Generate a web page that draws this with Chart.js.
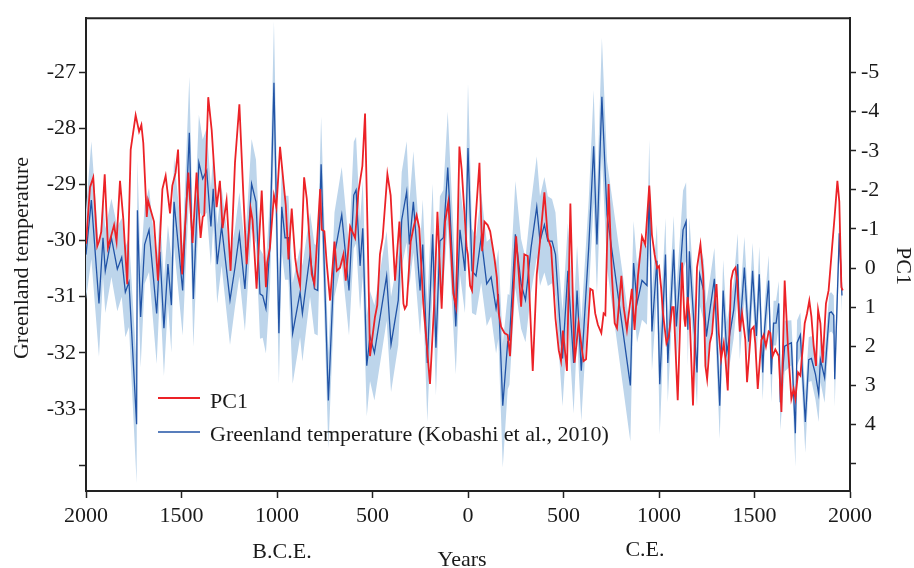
<!DOCTYPE html>
<html>
<head>
<meta charset="utf-8">
<script src="https://cdn.jsdelivr.net/npm/chart.js@4.4.1/dist/chart.umd.min.js"></script>
<style>
  html, body { margin: 0; padding: 0; background: #fff; }
  #wrap { width: 914px; height: 568px; }
</style>
</head>
<body>
<div id="wrap"><canvas id="chart" width="914" height="568"></canvas></div>
<script>
// Greenland temperature (Kobashi et al., 2010), deg C, with its uncertainty half-width
const tempYears = [
  -2000, -1972, -1932, -1911, -1899, -1867, -1836, -1813, -1794, -1775,
  -1735, -1731, -1714, -1693, -1670, -1630, -1613, -1592, -1571, -1553,
  -1539, -1494, -1459, -1438, -1409, -1389, -1368, -1346, -1334, -1313,
  -1290, -1246, -1220, -1197, -1168, -1133, -1110, -1089, -1075, -1058,
  -1037, -1016, -990, -975, -958, -940, -918, -879, -867, -827,
  -804, -787, -769, -731, -699, -661, -623, -598, -586, -565,
  -551, -530, -513, -490, -426, -403, -365, -347, -321, -307,
  -286, -251, -237, -213, -185, -168, -147, -129, -106, -64,
  -42, -16, 0, 21, 42, 69, 98, 121, 147, 159,
  182, 208, 217, 248, 278, 301, 330, 360, 377, 400,
  418, 440, 458, 479, 495, 523, 553, 571, 593, 632,
  658, 675, 701, 728, 850, 867, 885, 911, 937, 949,
  963, 989, 1004, 1034, 1046, 1077, 1091, 1126, 1142, 1151,
  1159, 1199, 1213, 1234, 1248, 1269, 1290, 1318, 1336, 1355,
  1391, 1412, 1423, 1447, 1470, 1490, 1510, 1525, 1543, 1553,
  1574, 1588, 1600, 1613, 1627, 1635, 1658, 1693, 1714, 1723,
  1740, 1766, 1784, 1798, 1819, 1836, 1845, 1867, 1880, 1892,
  1902, 1915, 1920, 1944, 1958
];
const tempValues = [
  -30.25, -29.28, -31.12, -29.95, -30.54, -29.95, -30.51, -30.3, -30.92, -30.74,
  -33.27, -29.46, -31.36, -30.07, -29.81, -31.3, -30.2, -31.56, -30.42, -31.15,
  -29.31, -30.89, -28.08, -31.04, -28.61, -28.9, -28.75, -29.75, -29.08, -30.42,
  -29.75, -31.06, -30.48, -29.89, -30.86, -28.99, -29.31, -30.95, -30.98, -31.21,
  -30.07, -27.19, -31.65, -29.4, -29.95, -29.95, -31.65, -30.92, -31.3, -30.25,
  -30.86, -30.89, -28.64, -32.85, -30.25, -29.54, -30.89, -29.19, -29.1, -30.45,
  -29.78, -32.23, -31.7, -32.0, -30.63, -31.85, -31.06, -29.63, -29.13, -30.07,
  -29.31, -30.89, -30.07, -32.18, -29.89, -31.91, -30.01, -29.95, -28.7, -31.53,
  -29.81, -30.54, -28.35, -30.54, -30.63, -29.95, -30.77, -30.65, -31.21, -30.95,
  -32.94, -31.8, -31.77, -29.89, -30.77, -31.06, -30.13, -29.4, -30.01, -29.72,
  -30.01, -30.01, -30.25, -31.36, -32.1, -30.54, -32.18, -30.89, -32.32, -30.13,
  -28.32, -30.07, -27.44, -29.54, -32.58, -30.4, -31.12, -30.71, -30.8, -29.05,
  -31.62, -30.36, -32.56, -30.25, -32.18, -30.16, -31.53, -29.81, -29.66, -31.59,
  -30.19, -32.35, -30.6, -30.89, -31.71, -31.18, -30.68, -32.94, -30.89, -32.0,
  -31.24, -30.42, -31.62, -30.48, -31.8, -30.54, -31.7, -30.6, -32.35, -31.56,
  -30.71, -32.38, -31.47, -31.47, -31.12, -32.88, -31.88, -31.82, -33.43, -31.82,
  -31.68, -33.23, -32.12, -32.1, -32.38, -32.73, -32.12, -32.44, -31.82, -31.29,
  -31.27, -31.33, -32.47, -29.87, -30.98
];
const tempErr = [
  0.8, 1.05, 0.95, 0.7, 0.75, 0.7, 0.75, 0.7, 0.8, 0.8,
  1.05, 0.9, 0.9, 0.7, 0.75, 0.9, 0.7, 0.85, 0.7, 0.85,
  0.8, 0.8, 1.0, 0.85, 0.85, 0.7, 0.75, 0.7, 0.65, 0.7,
  0.7, 0.8, 0.7, 0.75, 0.75, 0.8, 0.75, 0.8, 0.75, 0.8,
  0.8, 1.1, 0.9, 0.8, 0.75, 0.75, 0.9, 0.8, 0.85, 0.75,
  0.8, 0.8, 0.85, 0.85, 0.75, 0.85, 0.8, 0.95, 0.95, 0.8,
  0.85, 0.9, 0.8, 0.85, 0.8, 0.85, 0.8, 0.85, 0.9, 0.75,
  0.9, 0.8, 0.8, 1.05, 0.9, 0.85, 0.8, 0.85, 1.0, 0.85,
  0.8, 0.75, 1.15, 0.75, 0.7, 0.8, 0.75, 0.7, 0.8, 0.8,
  1.1, 0.85, 0.8, 0.95, 0.8, 0.75, 0.8, 0.9, 0.8, 0.85,
  0.8, 0.75, 0.75, 0.8, 0.85, 0.85, 0.9, 0.8, 0.9, 0.85,
  1.0, 0.9, 1.05, 0.95, 1.0, 0.75, 0.7, 0.7, 0.7, 0.85,
  0.7, 0.65, 0.9, 0.65, 0.7, 0.6, 0.65, 0.7, 0.7, 0.65,
  0.6, 0.6, 0.55, 0.55, 0.6, 0.55, 0.55, 0.6, 0.55, 0.55,
  0.5, 0.55, 0.5, 0.55, 0.5, 0.5, 0.45, 0.5, 0.5, 0.45,
  0.45, 0.5, 0.4, 0.4, 0.4, 0.5, 0.45, 0.4, 0.6, 0.4,
  0.4, 0.55, 0.4, 0.4, 0.45, 0.5, 0.4, 0.45, 0.4, 0.35,
  0.35, 0.35, 0.5, 0.35, 0.3
];

// PC1 scores (plotted on the reversed right axis)
const pc1Years = [
  -2000, -1979, -1962, -1941, -1932, -1920, -1902, -1885, -1853, -1840,
  -1822, -1805, -1784, -1766, -1740, -1722, -1710, -1700, -1682, -1675,
  -1661, -1644, -1623, -1600, -1583, -1560, -1548, -1531, -1518, -1501,
  -1497, -1464, -1442, -1421, -1400, -1389, -1381, -1360, -1342, -1316,
  -1299, -1285, -1264, -1243, -1220, -1197, -1176, -1159, -1138, -1128,
  -1107, -1080, -1058, -1051, -1037, -1016, -1003, -984, -966, -954,
  -940, -923, -905, -896, -879, -858, -844, -818, -804, -787,
  -774, -766, -752, -740, -722, -699, -687, -670, -652, -640,
  -617, -591, -574, -553, -539, -525, -513, -499, -487, -475,
  -461, -447, -422, -405, -382, -359, -338, -331, -321, -300,
  -286, -269, -255, -234, -199, -178, -160, -138, -120, -103,
  -77, -63, -45, -33, -7, -1, 11, 21, 39, 60,
  74, 86, 103, 116, 138, 151, 161, 173, 191, 208,
  220, 234, 252, 278, 295, 313, 339, 360, 377, 400,
  418, 435, 458, 475, 487, 497, 518, 536, 558, 579,
  597, 605, 618, 640, 653, 666, 680, 698, 710, 719,
  736, 753, 768, 780, 803, 815, 832, 841, 858, 872,
  890, 911, 928, 949, 954, 963, 977, 990, 1000, 1011,
  1021, 1039, 1051, 1069, 1077, 1098, 1121, 1133, 1138, 1150,
  1161, 1178, 1199, 1217, 1231, 1243, 1252, 1266, 1278, 1287,
  1301, 1313, 1325, 1339, 1348, 1360, 1377, 1388, 1400, 1409,
  1423, 1435, 1452, 1461, 1482, 1496, 1504, 1517, 1536, 1548,
  1560, 1574, 1583, 1595, 1609, 1627, 1641, 1658, 1675, 1693,
  1705, 1714, 1728, 1740, 1752, 1763, 1775, 1787, 1798, 1810,
  1822, 1833, 1845, 1857, 1874, 1888, 1906, 1920, 1934, 1944,
  1955, 1962
];
const pc1Values = [
  -0.62, -2.07, -2.32, -0.56, -0.68, -0.93, -2.4, -0.52, -1.1, -0.68,
  -2.23, -1.27, 0.41, -3.03, -3.91, -3.49, -3.66, -3.2, -1.31, -1.73,
  -1.48, -1.19, 0.32, -2.02, -2.36, -1.4, -2.11, -2.44, -3.03, -0.52,
  0.16, -2.44, -0.64, -2.44, -0.77, -1.31, -1.35, -4.37, -3.53, -1.56,
  -2.23, -1.02, -1.73, 0.07, -2.69, -4.19, -1.86, -0.1, -1.52, -1.23,
  0.53, -1.98, 0.49, -0.14, -0.52, -1.86, -1.55, -3.1, -2.19, -1.6,
  -0.22, -1.52, -0.26, 0.07, 0.45, -2.32, -1.77, 0.16, 0.41, -0.94,
  -2.02, -0.98, -0.94, -0.14, 0.83, -0.68, 0.07, -0.01, -0.35, 0.32,
  -1.06, -0.77, -1.94, -2.61, -3.95, -0.77, 2.25, 1.71, 1.25, 0.95,
  -0.35, -0.77, -2.4, -1.86, 0.32, -1.19, 0.91, 1.04, 0.95, -0.68,
  -1.02, -1.35, -1.02, 0.91, 2.96, 1.0, -1.44, 1.04, -1.19, -1.69,
  0.65, 0.99, -3.11, -2.52, -0.52, -0.35, 0.45, 0.57, -1.2, -2.69,
  -0.43, -1.19, -1.1, -0.94, -0.27, 0.24, 1.16, 1.5, 1.66, 1.71,
  2.25, 0.99, -0.81, 0.99, -0.35, -0.31, 2.63, 0.16, -0.68, -1.94,
  -0.77, -0.52, 1.29, 2.1, 2.38, 1.6, 2.63, -1.65, 2.42, 1.41,
  2.1, 2.38, 2.33, 0.53, 0.57, 1.16, 1.45, 1.66, 1.16, 1.2,
  -2.15, 0.16, 1.41, 1.54, 0.2, 1.0, 1.58, 1.2, 0.53, 1.58,
  0.2, -0.81, -0.6, -2.11, -1.7, -0.85, -0.35, 0.0, -0.05, 0.5,
  1.16, 1.92, 1.75, 1.0, 1.0, 3.38, -0.14, 1.3, 1.5, 0.74,
  1.3, 3.51, -0.01, -0.6, 0.16, 2.5, 2.84, 1.92, 1.66, 1.07,
  0.41, 1.66, 2.33, 1.92, 2.33, 3.13, 0.32, 0.07, -0.01, 0.32,
  1.62, 1.16, 1.83, 2.92, 1.58, 1.5, 1.92, 3.09, 1.84, 1.71,
  2.0, 1.62, 1.66, 2.25, 2.08, 2.25, 3.68, 0.32, 2.0, 3.34,
  3.09, 3.34, 2.67, 2.75, 2.08, 1.41, 1.16, 0.83, 1.24, 2.0,
  2.5, 1.07, 1.41, 2.42, 0.91, 0.57, -0.52, -1.35, -2.23, -1.7,
  0.49, 0.57
];

// axis ticks
const yearTicks = [-2000, -1500, -1000, -500, 0, 500, 1000, 1500, 2000];
const tempTicks = [-34, -33, -32, -31, -30, -29, -28, -27];
const pc1Ticks = [-5, -4, -3, -2, -1, 0, 1, 2, 3, 4, 5];

const RED = "#ec2227";
const BLUE = "#2153a6";
const BAND = "#bdd5eb";
const INK = "#1a1a1a";
const FONT = "22px 'Liberation Serif', 'Times New Roman', serif";

const tempLine = tempYears.map((x, i) => ({ x, y: tempValues[i] }));
const tempHigh = tempYears.map((x, i) => ({ x, y: tempValues[i] + tempErr[i] }));
const tempLow = tempYears.map((x, i) => ({ x, y: tempValues[i] - tempErr[i] }));
const pc1Line = pc1Years.map((x, i) => ({ x, y: pc1Values[i] }));

// top frame line, axis titles, era labels and the legend
const decorations = {
  id: "decorations",
  afterDraw(chart) {
    const c = chart.ctx;
    const a = chart.chartArea;
    c.save();
    c.strokeStyle = "#222";
    c.lineWidth = 2;
    c.beginPath();
    c.moveTo(a.left - 1, a.top);
    c.lineTo(a.right + 1, a.top);
    c.stroke();

    c.fillStyle = INK;
    c.font = FONT;
    c.textBaseline = "alphabetic";
    c.textAlign = "center";
    c.fillText("B.C.E.", 282, 558);
    c.fillText("C.E.", 645, 556);
    c.fillText("Years", 462, 566);

    c.save();
    c.translate(28, 258);
    c.rotate(-Math.PI / 2);
    c.fillText("Greenland temperature", 0, 0);
    c.restore();

    c.save();
    c.translate(897, 266);
    c.rotate(Math.PI / 2);
    c.fillText("PC1", 0, 0);
    c.restore();

    // legend
    c.textAlign = "left";
    c.lineWidth = 1.8;
    c.strokeStyle = RED;
    c.beginPath();
    c.moveTo(158, 398);
    c.lineTo(200, 398);
    c.stroke();
    c.fillText("PC1", 210, 408);
    c.lineWidth = 1.4;
    c.strokeStyle = BLUE;
    c.beginPath();
    c.moveTo(158, 432);
    c.lineTo(200, 432);
    c.stroke();
    c.fillText("Greenland temperature (Kobashi et al., 2010)", 210, 441);
    c.restore();
  }
};

const tickFont = { family: "'Liberation Serif', 'Times New Roman', serif", size: 22 };

new Chart(document.getElementById("chart"), {
  type: "line",
  data: {
    datasets: [
      {
        label: "PC1",
        data: pc1Line,
        yAxisID: "y2",
        borderColor: RED,
        borderWidth: 1.8,
        pointRadius: 0,
        tension: 0,
        order: 0,
      },
      {
        label: "Greenland temperature (Kobashi et al., 2010)",
        data: tempLine,
        yAxisID: "y",
        borderColor: BLUE,
        borderWidth: 1.3,
        pointRadius: 0,
        tension: 0,
        order: 1,
      },
      {
        label: "upper",
        data: tempHigh,
        yAxisID: "y",
        borderWidth: 0,
        borderColor: "rgba(0,0,0,0)",
        backgroundColor: BAND,
        pointRadius: 0,
        fill: "+1",
        order: 2,
      },
      {
        label: "lower",
        data: tempLow,
        yAxisID: "y",
        borderWidth: 0,
        borderColor: "rgba(0,0,0,0)",
        pointRadius: 0,
        fill: false,
        order: 3,
      },
    ],
  },
  options: {
    responsive: false,
    animation: false,
    layout: { padding: { top: 11, left: 0, right: 0, bottom: 0 } },
    plugins: {
      legend: { display: false },
      tooltip: { enabled: false },
    },
    scales: {
      x: {
        type: "linear",
        min: -2000,
        max: 2000,
        afterBuildTicks: (s) => { s.ticks = yearTicks.map((v) => ({ value: v })); },
        afterFit: (s) => { s.height = 77; },
        ticks: {
          callback: (v) => String(Math.abs(v)),
          font: tickFont,
          color: INK,
          padding: 5,
          maxRotation: 0,
          autoSkip: false,
        },
        grid: { drawOnChartArea: false, tickLength: 7, color: "#222", tickWidth: 1.5 },
        border: { color: "#222", width: 2 },
      },
      y: {
        position: "left",
        min: -34.46,
        max: -26.04,
        afterBuildTicks: (s) => { s.ticks = tempTicks.map((v) => ({ value: v })); },
        afterFit: (s) => { s.width = 86; },
        ticks: {
          callback: (v) => (v === -34 ? "" : String(v)),
          font: tickFont,
          color: INK,
          padding: 3,
        },
        grid: { drawOnChartArea: false, tickLength: 7, color: "#222", tickWidth: 1.5 },
        border: { color: "#222", width: 2 },
      },
      y2: {
        position: "right",
        reverse: true,
        min: -6.39,
        max: 5.7,
        afterBuildTicks: (s) => { s.ticks = pc1Ticks.map((v) => ({ value: v })); },
        afterFit: (s) => { s.width = 64; },
        ticks: {
          callback: (v) => (v === 5 ? "" : String(v)),
          font: tickFont,
          color: INK,
          padding: 5,
          crossAlign: "center",
        },
        grid: { drawOnChartArea: false, tickLength: 6, color: "#222", tickWidth: 1.5 },
        border: { color: "#222", width: 2 },
      },
    },
  },
  plugins: [decorations],
});
</script>
</body>
</html>
